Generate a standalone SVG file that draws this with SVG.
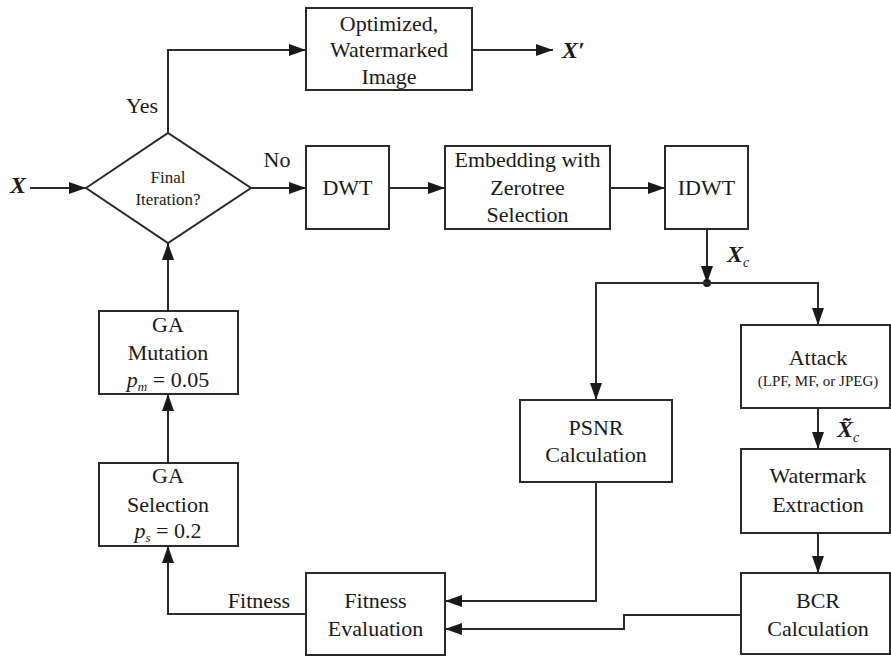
<svg xmlns="http://www.w3.org/2000/svg" width="891" height="656" viewBox="0 0 891 656" font-family="'Times New Roman', 'Liberation Serif', Tinos, 'DejaVu Serif', serif">
<defs>
<marker id="arr" markerUnits="userSpaceOnUse" markerWidth="18" markerHeight="12" refX="17" refY="6" orient="auto">
<path d="M0,0 L17,6 L0,12 Z" fill="#1a1a1a"/>
</marker>
</defs>
<style>
.box{fill:#fff;stroke:#2a2a2a;stroke-width:2}
.ln{fill:none;stroke:#2a2a2a;stroke-width:2}
.t{font-family:'Times New Roman','Liberation Serif',Tinos,'DejaVu Serif',serif;font-size:22px;fill:#1a1a1a;text-anchor:middle}
.s{font-size:17px}
.xs{font-size:15px}
.v{font-family:'Times New Roman','Liberation Serif',Tinos,'DejaVu Serif',serif;font-style:italic;font-weight:bold;font-size:24px;fill:#1a1a1a}
.it{font-style:italic}
</style>
<rect width="891" height="656" fill="#fff"/>
<g id="connectors">
<line class="ln" x1="30" y1="188" x2="86" y2="188" marker-end="url(#arr)"/>
<polyline class="ln" points="168,133 168,50 306,50" marker-end="url(#arr)"/>
<line class="ln" x1="472" y1="50" x2="553" y2="50" marker-end="url(#arr)"/>
<line class="ln" x1="251" y1="188" x2="306" y2="188" marker-end="url(#arr)"/>
<line class="ln" x1="389" y1="188" x2="445" y2="188" marker-end="url(#arr)"/>
<line class="ln" x1="610" y1="188" x2="665" y2="188" marker-end="url(#arr)"/>
<line class="ln" x1="707" y1="229" x2="707" y2="283" marker-end="url(#arr)"/>
<circle cx="707" cy="283" r="4" fill="#1a1a1a"/>
<polyline class="ln" points="707,283 596,283 596,400" marker-end="url(#arr)"/>
<polyline class="ln" points="707,283 818,283 818,325" marker-end="url(#arr)"/>
<line class="ln" x1="818" y1="408" x2="818" y2="449" marker-end="url(#arr)"/>
<line class="ln" x1="818" y1="533" x2="818" y2="573" marker-end="url(#arr)"/>
<polyline class="ln" points="596,482 596,601 445,601" marker-end="url(#arr)"/>
<polyline class="ln" points="741,615 624,615 624,629 445,629" marker-end="url(#arr)"/>
<polyline class="ln" points="306,614 168,614 168,546" marker-end="url(#arr)"/>
<line class="ln" x1="168" y1="463" x2="168" y2="394" marker-end="url(#arr)"/>
<line class="ln" x1="168" y1="311" x2="168" y2="243" marker-end="url(#arr)"/>
<text class="t" x="142" y="113">Yes</text>
<text class="t" x="277" y="167">No</text>
<text class="t" x="259" y="608">Fitness</text>
<text class="v" x="10" y="193">X</text>
<text class="v" x="562" y="58">X′</text>
<text class="v" x="727" y="262">X<tspan font-size="14" font-weight="normal" dy="5">c</tspan></text>
<text class="v" x="837" y="437">X&#771;<tspan font-size="14" font-weight="normal" dy="5">c</tspan></text>
</g>
<g id="decision">
<polygon class="box" points="86,188 168,133 251,188 168,243"/>
<text class="t s" x="168" y="183">Final</text>
<text class="t s" x="168" y="205">Iteration?</text>
</g>
<g id="output">
<rect class="box" x="306" y="8" width="166" height="82"/>
<text class="t" x="389" y="31">Optimized,</text>
<text class="t" x="389" y="57">Watermarked</text>
<text class="t" x="389" y="84">Image</text>
</g>
<g id="dwt">
<rect class="box" x="306" y="146" width="83" height="83"/>
<text class="t" x="347.5" y="195">DWT</text>
</g>
<g id="embedding">
<rect class="box" x="445" y="146" width="165" height="83"/>
<text class="t" x="527.5" y="167">Embedding with</text>
<text class="t" x="527.5" y="195">Zerotree</text>
<text class="t" x="527.5" y="222">Selection</text>
</g>
<g id="idwt">
<rect class="box" x="665" y="146" width="83" height="83"/>
<text class="t" x="706.5" y="195">IDWT</text>
</g>
<g id="psnr">
<rect class="box" x="520" y="400" width="152" height="82"/>
<text class="t" x="596" y="435">PSNR</text>
<text class="t" x="596" y="462">Calculation</text>
</g>
<g id="attack">
<rect class="box" x="741" y="325" width="149" height="83"/>
<text class="t" x="818" y="365">Attack</text>
<text class="t xs" x="818" y="386">(LPF, MF, or JPEG)</text>
</g>
<g id="extraction">
<rect class="box" x="741" y="449" width="149" height="84"/>
<text class="t" x="818" y="483">Watermark</text>
<text class="t" x="818" y="512">Extraction</text>
</g>
<g id="bcr">
<rect class="box" x="741" y="573" width="149" height="81"/>
<text class="t" x="818" y="608">BCR</text>
<text class="t" x="818" y="636">Calculation</text>
</g>
<g id="fitness">
<rect class="box" x="306" y="573" width="139" height="82"/>
<text class="t" x="375.5" y="608">Fitness</text>
<text class="t" x="375.5" y="636">Evaluation</text>
</g>
<g id="mutation">
<rect class="box" x="99" y="311" width="139" height="83"/>
<text class="t" x="168" y="332">GA</text>
<text class="t" x="168" y="360">Mutation</text>
<text class="t" x="168" y="387"><tspan class="it">p</tspan><tspan class="it" font-size="13" dy="4">m</tspan><tspan dy="-4"> = 0.05</tspan></text>
</g>
<g id="selection">
<rect class="box" x="99" y="463" width="139" height="83"/>
<text class="t" x="168" y="483">GA</text>
<text class="t" x="168" y="512">Selection</text>
<text class="t" x="168" y="538"><tspan class="it">p</tspan><tspan class="it" font-size="13" dy="4">s</tspan><tspan dy="-4"> = 0.2</tspan></text>
</g>
</svg>
